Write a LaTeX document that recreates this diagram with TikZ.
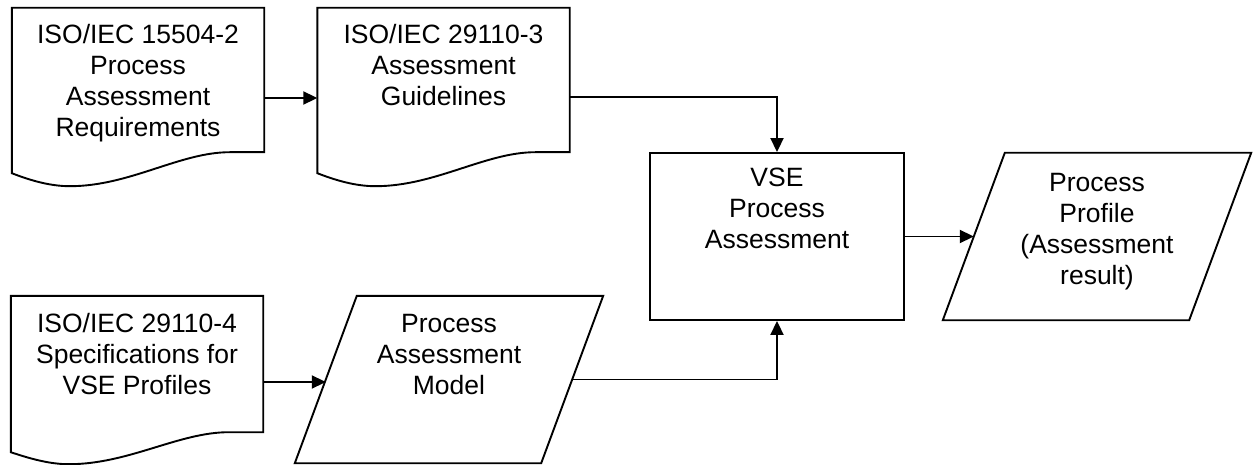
\documentclass[tikz,border=0pt]{standalone}
\usepackage{fontspec}
\setmainfont{Liberation Sans}
\usetikzlibrary{arrows.meta,positioning,calc}
\tikzset{
  docbox/.style={rectangle, inner sep=0pt, minimum width=252pt, minimum height=144pt},
  iobox/.style={rectangle, inner sep=0pt, minimum width=246pt, minimum height=167pt},
  procbox/.style={rectangle, draw, line width=1.9pt, inner sep=0pt, minimum width=254pt, minimum height=167pt},
  outline/.style={draw, line width=1.9pt, line join=miter},
  caption/.style={inner sep=0pt, align=center, font=\fontsize{26.5pt}{31pt}\selectfont},
  arrow/.style={-{Triangle[length=14pt, width=13pt]}, line width=1.9pt}
}
% document shape: node, left drop, lowest drop
\newcommand{\docoutline}[3]{%
  \draw[outline] ($(#1.south west)+(0,#2)$) -- (#1.north west) -- (#1.north east) -- (#1.south east)
    -- ($(#1.south west)+(218,0)$)
    .. controls ($(#1.south west)+(168,0)$) and ($(#1.south west)+(118,#3)$) .. ($(#1.south west)+(58,#3)$)
    .. controls ($(#1.south west)+(38,#3)$) and ($(#1.south west)+(18,#3-6)$) .. cycle;
}
% data shape (parallelogram)
\newcommand{\iooutline}[1]{%
  \draw[outline] ($(#1.north west)+(31,0)$) -- ($(#1.north east)+(31,0)$)
    -- ($(#1.south east)-(31,0)$) -- ($(#1.south west)-(31,0)$) -- cycle;
}

\begin{document}
\begin{tikzpicture}[x=1pt, y=-1pt]
  \fill[white] (0,0) rectangle (1256,465);
  \useasboundingbox (0,0) rectangle (1256,465);

  \node[docbox] (reqs) at (138,80) {};
  \node[docbox] (guide) at (443.5,80) {};
  \node[docbox, minimum height=136pt] (specs) at (137,364) {};
  \node[procbox] (vse) at (777,236.5) {};
  \node[iobox] (pam) at (449,379.5) {};
  \node[iobox] (profile) at (1097,236.5) {};

  \docoutline{reqs}{21}{34}
  \docoutline{guide}{21}{34}
  \docoutline{specs}{20}{32}
  \iooutline{pam}
  \iooutline{profile}

  \node[caption, below=16pt of reqs.north] (reqs-text) {ISO/IEC 15504-2\\Process\\Assessment\\Requirements};
  \node[caption, below=16pt of guide.north] (guide-text) {ISO/IEC 29110-3\\Assessment\\Guidelines};
  \node[caption, below=17pt of specs.north] (specs-text) {ISO/IEC 29110-4\\Specifications for\\VSE Profiles};
  \node[caption, below=16pt of vse.north] (vse-text) {VSE\\Process\\Assessment};
  \node[caption, below=18pt of pam.north] (pam-text) {Process\\Assessment\\Model};
  \node[caption, below=20pt of profile.north] (profile-text) {Process\\Profile\\(Assessment\\result)};

  \coordinate (reqs-out) at ([yshift=-18pt]reqs.east);
  \coordinate (guide-out) at ([yshift=-17pt]guide.east);
  \coordinate (specs-out) at ([yshift=-18pt]specs.east);

  \draw[arrow] (reqs-out) -- (reqs-out -| guide.west);
  \draw[arrow] (guide-out) -| (vse.north);
  \draw[arrow] (specs-out) -- (specs-out -| pam.west);
  \draw[arrow] (pam.east) -| (vse.south);
  \draw[arrow] (vse) -- (profile);
\end{tikzpicture}
\end{document}
